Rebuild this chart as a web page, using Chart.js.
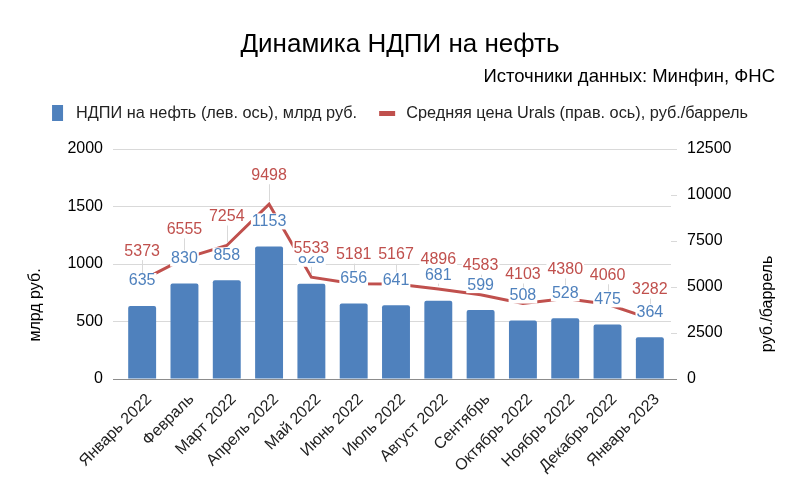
<!DOCTYPE html>
<html lang="ru">
<head>
<meta charset="utf-8">
<title>Динамика НДПИ на нефть</title>
<script src="https://cdn.jsdelivr.net/npm/chart.js@4.4.1/dist/chart.umd.min.js"></script>
<style>
  html, body { margin: 0; padding: 0; background: #fff; }
</style>
</head>
<body>
<canvas id="chartNdpi" width="800" height="495"></canvas>
<script>
/* НДПИ на нефть и цена Urals: столбцы + линия на второй оси */
const meses = ['Январь 2022', 'Февраль', 'Март 2022', 'Апрель 2022', 'Май 2022', 'Июнь 2022', 'Июль 2022',
  'Август 2022', 'Сентябрь', 'Октябрь 2022', 'Ноябрь 2022', 'Декабрь 2022', 'Январь 2023'];
const ndpi = [635, 830, 858, 1153, 828, 656, 641, 681, 599, 508, 528, 475, 364];
const urals = [5373, 6555, 7254, 9498, 5533, 5181, 5167, 4896, 4583, 4103, 4380, 4060, 3282];

const AZUL = '#4F81BD';
const ROJO = '#C0504D';
const FUENTE = "'Liberation Sans', Arial, sans-serif";

Chart.defaults.font.family = FUENTE;
Chart.defaults.color = '#222';

const colorGrid = (ctx) => (ctx.tick && ctx.tick.value === 0 ? '#8c8c8c' : '#d9d9d9');

// ---- Etiquetas de valores ----
function etiqueta(ctx, txt, x, y, color) {
  const w = ctx.measureText(txt).width;
  ctx.fillStyle = '#fff';
  ctx.fillRect(x - w / 2 - 1, y - 8, w + 2, 16);
  ctx.fillStyle = color;
  ctx.fillText(txt, x, y);
}

const etiquetas = {
  id: 'etiquetas',
  afterDatasetsDraw(chart) {
    const { ctx } = chart;
    ctx.save();
    ctx.font = `16px ${FUENTE}`;
    ctx.textAlign = 'center';
    ctx.textBaseline = 'middle';
    const linea = chart.getDatasetMeta(1).data;
    // guías grises
    ctx.strokeStyle = '#d9d9d9';
    ctx.lineWidth = 1;
    linea.forEach((pt) => {
      const x = Math.round(pt.x) + 0.5;
      ctx.beginPath();
      ctx.moveTo(x, pt.y - 20);
      ctx.lineTo(x, pt.y - 3);
      ctx.stroke();
    });
    chart.getDatasetMeta(0).data.forEach((bar, i) => etiqueta(ctx, String(ndpi[i]), bar.x, bar.y - 25, AZUL));
    linea.forEach((pt, i) => etiqueta(ctx, String(urals[i]), pt.x, pt.y - 29, ROJO));
    ctx.restore();
  },
  afterDraw(chart) {
    const { ctx } = chart;
    ctx.save();
    ctx.font = `16.3px ${FUENTE}`;
    ctx.textBaseline = 'middle';

    // leyenda
    const [ds0, ds1] = chart.data.datasets;
    const w1 = ctx.measureText(ds0.label).width;
    const w2 = ctx.measureText(ds1.label).width;
    const total = 11 + 13 + w1 + 22 + 16 + 11 + w2;
    let x = 400 - total / 2;
    const yl = 113;
    ctx.fillStyle = AZUL;
    ctx.fillRect(x, yl - 8, 11, 16);
    x += 24;
    ctx.fillStyle = '#222';
    ctx.textAlign = 'left';
    ctx.fillText(ds0.label, x, yl + 1);
    x += w1 + 22;
    ctx.fillStyle = ROJO;
    ctx.fillRect(x, yl - 2, 16, 5);
    x += 27;
    ctx.fillStyle = '#222';
    ctx.fillText(ds1.label, x, yl + 1);

    // títulos de ejes
    ctx.font = `16px ${FUENTE}`;
    ctx.fillStyle = '#000';
    ctx.textAlign = 'center';
    [['млрд руб.', 36, 305], ['руб./баррель', 768, 304]].forEach(([t, tx, ty]) => {
      ctx.save();
      ctx.translate(tx, ty);
      ctx.rotate(-Math.PI / 2);
      ctx.fillText(t, 0, 0);
      ctx.restore();
    });
    ctx.restore();
  },
};

new Chart(document.getElementById('chartNdpi'), {
  data: {
    labels: meses,
    datasets: [
      {
        type: 'bar', label: 'НДПИ на нефть (лев. ось), млрд руб.', data: ndpi, yAxisID: 'y', order: 1,
        backgroundColor: AZUL, borderRadius: 2, barPercentage: 0.66, categoryPercentage: 1,
      },
      {
        type: 'line', label: 'Средняя цена Urals (прав. ось), руб./баррель', data: urals, yAxisID: 'y1', order: 0,
        borderColor: ROJO, backgroundColor: ROJO, borderWidth: 3, pointRadius: 0, tension: 0,
      },
    ],
  },
  options: {
    responsive: false,
    animation: false,
    layout: { padding: { left: 25, right: 25, top: 0, bottom: 0 } },
    plugins: {
      tooltip: { enabled: false },
      legend: { display: false },
      title: {
        display: true, text: 'Динамика НДПИ на нефть', color: '#000',
        font: { size: 26, weight: 'normal' }, padding: { top: 29.4, bottom: 5.3 },
      },
      subtitle: {
        display: true, text: 'Источники данных: Минфин, ФНС', align: 'end', color: '#000',
        font: { size: 18.5 }, padding: { top: 0, bottom: 60.9 },
      },
    },
    scales: {
      x: {
        grid: { display: false, drawTicks: false }, border: { display: false },
        ticks: { minRotation: 45, maxRotation: 45, autoSkip: false, font: { size: 16 }, padding: 11, labelOffset: 7 },
        afterFit: (s) => { s.height = 116; },
      },
      y: {
        position: 'left', min: 0, max: 2000,
        ticks: { stepSize: 500, font: { size: 16 }, padding: 10, color: '#000', callback: (v) => String(v) },
        grid: { color: colorGrid, tickLength: 8 }, border: { display: false },
        afterFit: (s) => { s.width = 96; },
      },
      y1: {
        position: 'right', min: 0, max: 12500,
        ticks: { stepSize: 2500, font: { size: 16 }, padding: 10, color: '#000', callback: (v) => String(v) },
        grid: { color: colorGrid, tickLength: 6, drawOnChartArea: false }, border: { display: false },
        afterFit: (s) => { s.width = 104; },
      },
    },
  },
  plugins: [etiquetas],
});
</script>
</body>
</html>
